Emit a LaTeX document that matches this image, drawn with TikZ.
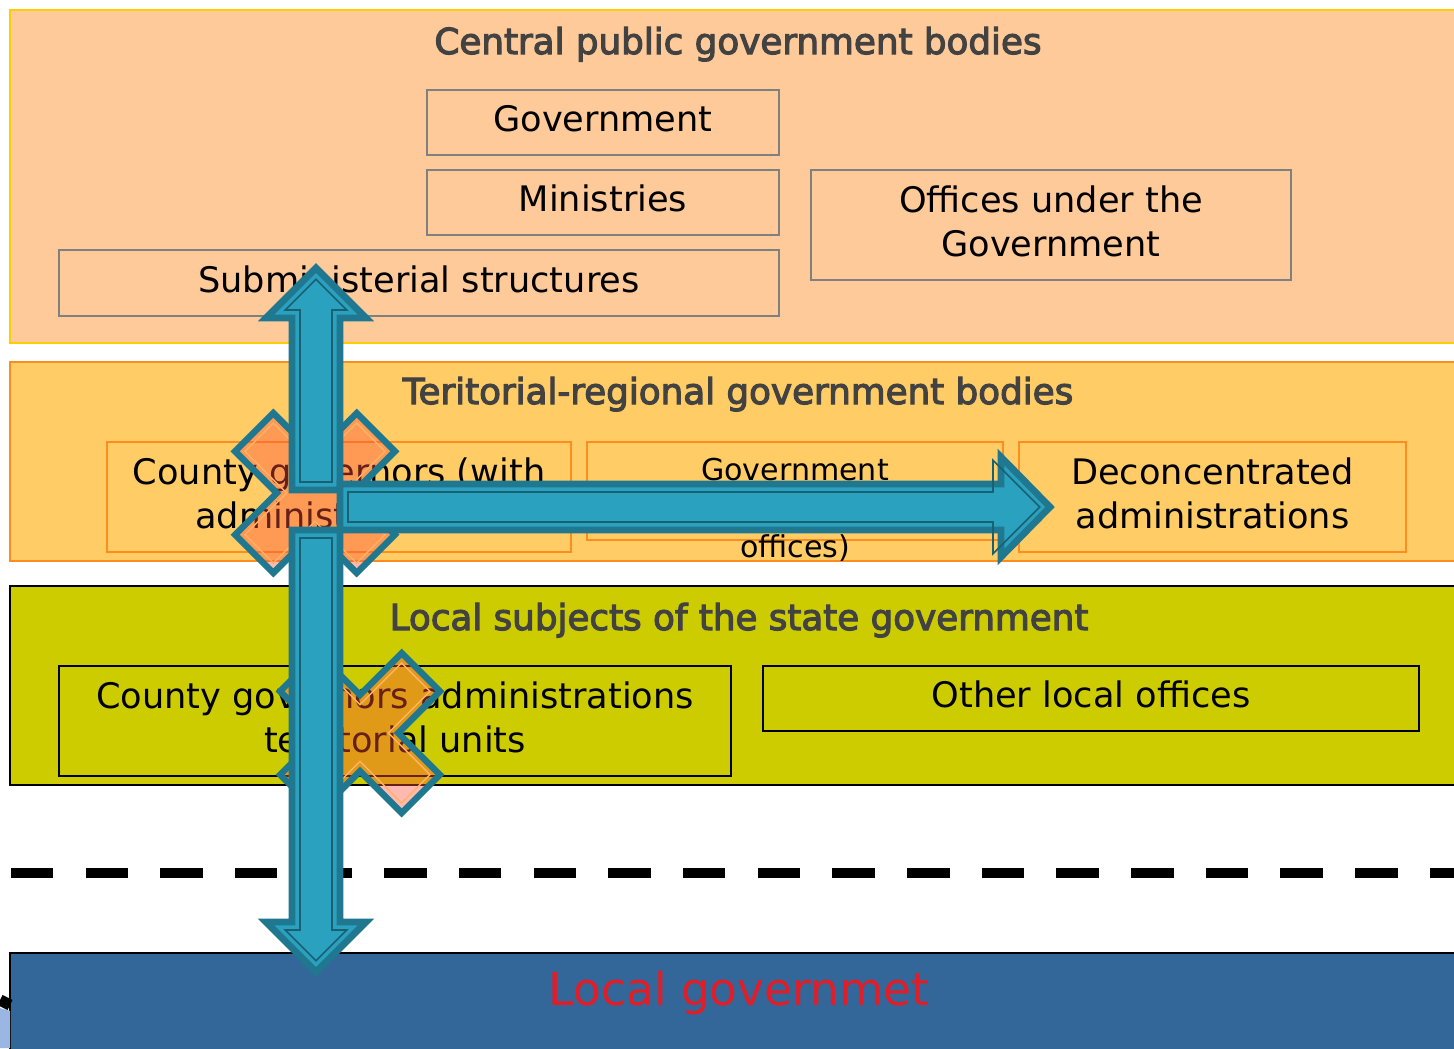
\documentclass[tikz,border=0pt]{standalone}
\usepackage{fontspec}
\setmainfont{DejaVu Sans}
\newfontfamily\titlefont[FakeBold=3.2]{DejaVu Sans}
\usepackage{tikz}
\usepackage{xcolor}

\definecolor{centralfill}{RGB}{255,202,153}
\definecolor{centralline}{RGB}{255,204,0}
\definecolor{terrfill}{RGB}{255,204,102}
\definecolor{terrline}{RGB}{255,140,30}
\definecolor{localfill}{RGB}{204,204,0}
\definecolor{selffill}{RGB}{51,102,153}
\definecolor{titlegray}{RGB}{66,66,66}
\definecolor{boxgray}{RGB}{128,128,128}
\definecolor{selfred}{RGB}{225,30,40}
\definecolor{arrowfill}{RGB}{43,161,192}
\definecolor{arrowline}{RGB}{31,120,143}
\definecolor{crossfill}{RGB}{255,80,60}

\begin{document}
\begin{tikzpicture}[x=0.025cm, y=-0.025cm,
	box/.style={draw, line width=1.4pt, inner sep=0pt, align=center, text depth=6pt,
		font=\fontsize{25}{31.3}\selectfont},
	bandtitle/.style={anchor=base, inner sep=0pt, text=titlegray,
		font=\titlefont\fontsize{25.4}{30}\selectfont},
	smalltext/.style={anchor=base, inner sep=0pt, font=\fontsize{21.4}{26}\selectfont},
	arrowbody/.style={fill=arrowfill, draw=arrowline, line width=4.8pt, line join=miter},
	arrowinner/.style={draw=arrowline!80!black, line width=1.1pt},
	crossbody/.style={fill=crossfill, fill opacity=0.4, draw=arrowline, line width=4.6pt},
	crossinner/.style={draw=orange!60!white, line width=1pt}]
	\useasboundingbox (0,0) rectangle (1454,1048);

	% central bodies
	\draw[centralline, fill=centralfill, line width=1.5pt] (10,10) rectangle (1470,343);
	\node[bandtitle] (central) at (738,54) {Central public government bodies};
	\node[box, draw=boxgray, minimum width=8.8cm, minimum height=1.625cm] (gov) at (603,122.5) {Government};
	\node[box, draw=boxgray, minimum width=8.8cm, minimum height=1.625cm] (min) at (603,202.5) {Ministries};
	\node[box, draw=boxgray, minimum width=12cm, minimum height=2.75cm] (offices) at (1051,225) {Offices under the\\Government};
	\node[box, draw=boxgray, minimum width=18cm, minimum height=1.65cm] (submin) at (419,283) {Subministerial structures};

	% territorial-regional bodies
	\draw[terrline, fill=terrfill, line width=1.5pt] (10,362) rectangle (1470,561);
	\node[bandtitle] (terr) at (738,404) {Teritorial-regional government bodies};
	\node[box, draw=terrline, minimum width=11.6cm, minimum height=2.75cm] (county) at (339,497) {County governors (with\\administrations)};
	\node[box, draw=terrline, minimum width=10.4cm, minimum height=2.45cm] (govoff) at (795,491) {};
	\node[smalltext] (govoffa) at (795,480) {Government};
	\node[smalltext] (govoffb) at (795,557) {offices)};
	\node[box, draw=terrline, minimum width=9.675cm, minimum height=2.75cm] (decon) at (1212.5,497) {Deconcentrated\\administrations};

	% local subjects
	\draw[black, fill=localfill, line width=1.5pt] (10,586) rectangle (1470,785);
	\node[bandtitle] (localsubj) at (739,630) {Local subjects of the state government};
	\node[box, minimum width=16.8cm, minimum height=2.75cm] (cga) at (395,721) {County governors administrations\\territorial units};
	\node[box, minimum width=16.4cm, minimum height=1.625cm] (other) at (1091,698.5) {Other local offices};

	% dashed border
	\draw[line width=7.8pt, dash pattern=on 30.2pt off 22.9pt] (11,873) -- (1470,873);

	% local government
	\draw[black, fill=selffill, line width=1.5pt] (10,953) rectangle (1470,1070);
	\node[anchor=base, inner sep=0pt, text=selfred, font=\fontsize{32.3}{38}\selectfont] (localgov) at (739,1005) {Local governmet};
	\fill[cyan!50!blue!40] (0,1008) -- (10,1011) -- (10,1048) -- (0,1048) -- cycle;
	\draw[line width=8pt] (0,1000) -- (10,1005);

	% crosses
	\foreach \cx/\cy in {315/493, 360/733}
	{
		\begin{scope}[shift={(\cx,\cy)}, rotate=45]
			\draw[crossbody] (86,27) -- (27,27) -- (27,86) -- (-27,86) -- (-27,27) -- (-86,27) -- (-86,-27) -- (-27,-27) -- (-27,-86) -- (27,-86) -- (27,-27) -- (86,-27) -- cycle;
			\draw[crossinner] (79,20) -- (20,20) -- (20,79) -- (-20,79) -- (-20,20) -- (-79,20) -- (-79,-20) -- (-20,-20) -- (-20,-79) -- (20,-79) -- (20,-20) -- (79,-20) -- cycle;
		\end{scope}
	}

	% block arrows
	\draw[arrowbody] (316,268) -- (366,318) -- (340,318) -- (340,490) -- (292,490) -- (292,318) -- (266,318) -- cycle;
	\draw[arrowinner] (316,279.3) -- (346.7,310) -- (332,310) -- (332,482) -- (300,482) -- (300,310) -- (285.3,310) -- cycle;
	\draw[arrowbody] (340,484) -- (1001,484) -- (1001,457) -- (1050,507) -- (1001,557) -- (1001,530) -- (340,530) -- cycle;
	\draw[arrowinner] (348,492) -- (993,492) -- (993,460.3) -- (1039.7,507) -- (993,553.7) -- (993,522) -- (348,522) -- cycle;
	\draw[arrowbody] (292,530) -- (340,530) -- (340,922) -- (366,922) -- (316,972) -- (266,922) -- (292,922) -- cycle;
	\draw[arrowinner] (300,538) -- (332,538) -- (332,930) -- (346.7,930) -- (316,960.7) -- (285.3,930) -- (300,930) -- cycle;
\end{tikzpicture}
\end{document}
